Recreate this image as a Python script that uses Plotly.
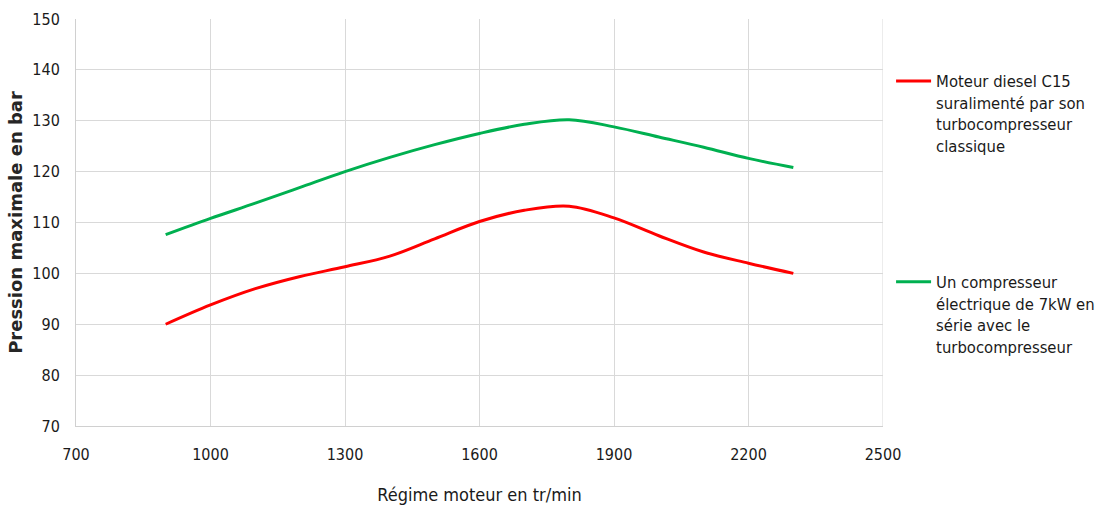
import plotly.graph_objects as go

# Engine speed (tr/min) and maximum cylinder pressure (bar)
regime = [900, 1000, 1100, 1200, 1300, 1400, 1500, 1600, 1700, 1800, 1900, 2000, 2100, 2200, 2300]
pression_turbo = [90.0, 93.8, 97.0, 99.4, 101.3, 103.4, 106.8, 110.2, 112.4, 113.2, 110.9, 107.4, 104.2, 102.0, 100.0]
pression_elec = [107.6, 110.8, 113.8, 116.9, 120.0, 122.8, 125.3, 127.5, 129.3, 130.2, 128.8, 126.8, 124.8, 122.6, 120.8]

x_ticks = [700, 1000, 1300, 1600, 1900, 2200, 2500]
y_ticks = [70, 80, 90, 100, 110, 120, 130, 140, 150]

name_turbo = "Moteur diesel C15<br>suralimenté par son<br>turbocompresseur<br>classique"
name_elec = "Un compresseur<br>électrique de 7kW en<br>série avec le<br>turbocompresseur"

FONT = "DejaVu Sans Condensed, Liberation Sans Narrow, sans-serif"
TXT = "#1a1a1a"

fig = go.Figure()
fig.add_trace(go.Scatter(
    x=regime, y=pression_turbo, mode="lines", name=name_turbo,
    line=dict(color="#ff0000", width=3, shape="spline"),
    legendgroup="a",
))
fig.add_trace(go.Scatter(
    x=regime, y=pression_elec, mode="lines", name=name_elec,
    line=dict(color="#00b050", width=3, shape="spline"),
    legendgroup="b",
))

fig.update_layout(
    width=1104, height=508,
    margin=dict(l=76, r=221, t=19, b=82, autoexpand=False),
    paper_bgcolor="white", plot_bgcolor="white",
    font=dict(family=FONT, size=16, color=TXT),
    legend=dict(
        x=1.01, xanchor="left", y=0.89, yanchor="top",
        valign="top", traceorder="grouped", tracegroupgap=112,
        font=dict(family=FONT, size=16.5, color=TXT),
        itemwidth=35,
    ),
    xaxis=dict(
        range=[700, 2500], tickvals=x_ticks, ticktext=[str(v) for v in x_ticks],
        showgrid=True, gridcolor="#d9d9d9", gridwidth=1,
        showline=True, linecolor="#d0d0d0", linewidth=1, mirror=False,
        zeroline=False, ticks="", ticklabelstandoff=14, automargin=False,
        title=dict(text="Régime moteur en tr/min", standoff=25,
                   font=dict(family=FONT, size=18, color=TXT)),
    ),
    yaxis=dict(
        range=[70, 150], tickvals=y_ticks,
        showgrid=True, gridcolor="#d9d9d9", gridwidth=1,
        showline=True, linecolor="#d0d0d0", linewidth=1,
        zeroline=False, ticks="", ticklabelstandoff=12, automargin=False,
        title=dict(text="<b>Pression maximale en bar</b>", standoff=5,
                   font=dict(family="DejaVu Sans, Verdana, sans-serif", size=18, color="#262626")),
    ),
)
# right-hand border of the plot area at 2500
fig.add_shape(type="line", xref="x", yref="paper", x0=2500, x1=2500, y0=0, y1=1,
              line=dict(color="#d9d9d9", width=1))

fig.write_html("out.html")
